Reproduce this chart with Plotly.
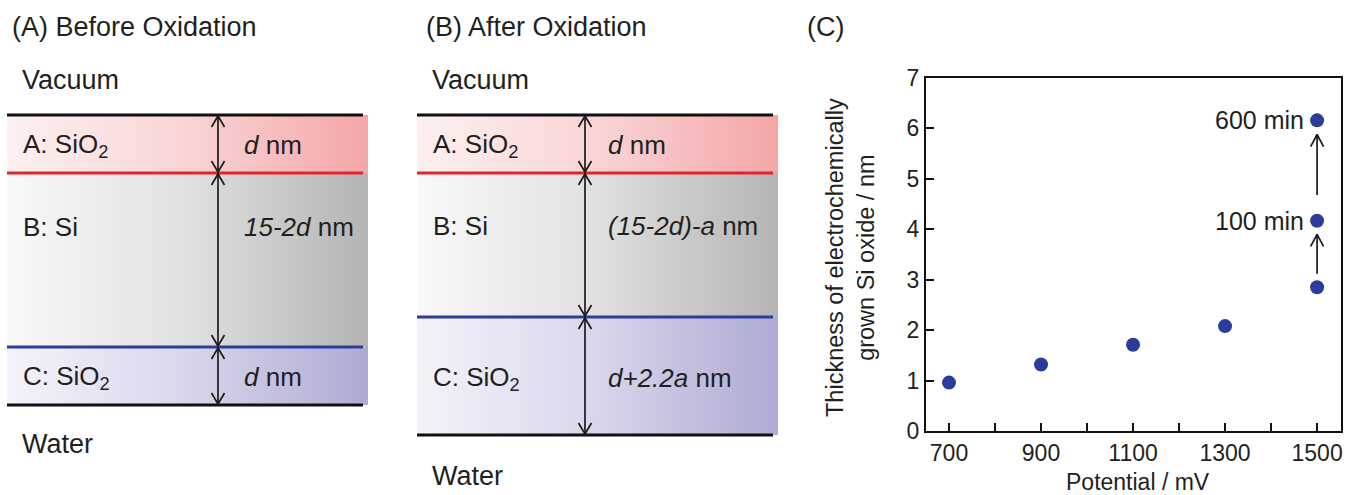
import plotly.graph_objects as go

# ---------------- data (panel C) ----------------
potential_mV = [700, 900, 1100, 1300, 1500, 1500, 1500]
thickness_nm = [0.96, 1.32, 1.71, 2.08, 2.85, 4.17, 6.16]
time_labels = ["600 min", "100 min"]
time_label_y = [6.16, 4.17]
growth_arrows = [(3.12, 3.90), (4.68, 5.88)]
x_tickvals = [700, 900, 1100, 1300, 1500]
y_tickvals = [0, 1, 2, 3, 4, 5, 6, 7]

# ---------------- schematic layout (pixel space) ----------------
W, H = 1354, 495
FONT = "Liberation Sans, Arial, sans-serif"
TXT = "#231f20"
FS = 27
FS_LAYER = 26

panelA = dict(x0=7, x1=363, xf=368, ys=[115, 173, 347, 405], xarrow=218, xlab=21, xval=242,
              ylab=[145, 227, 377])
panelB = dict(x0=417, x1=773, xf=778, ys=[115, 173, 317, 435], xarrow=585, xlab=431, xval=606,
              ylab=[145, 226, 378])

grad_A = [[0, "#fdf0f0"], [0.5, "#f9d4d5"], [1, "#f4a6a8"]]
grad_B = [[0, "#f9f9f9"], [0.5, "#e0e0e0"], [1, "#b4b4b4"]]
grad_C = [[0, "#f4f3fa"], [0.5, "#d8d6eb"], [1, "#aeaad3"]]
line_cols = ["#111111", "#e3242b", "#2b3d99", "#111111"]

fig = go.Figure()


def grad_rect(x0, x1, y0, y1, cs):
    fig.add_trace(go.Scatter(
        x=[x0, x1, x1, x0, x0], y=[y0, y0, y1, y1, y0],
        mode="lines", fill="toself", line=dict(width=0),
        fillgradient=dict(type="horizontal", colorscale=cs),
        xaxis="x2", yaxis="y2", hoverinfo="skip", showlegend=False))


def hline(x0, x1, y, col):
    fig.add_trace(go.Scatter(x=[x0, x1], y=[y, y], mode="lines",
                             line=dict(color=col, width=3.2),
                             xaxis="x2", yaxis="y2", hoverinfo="skip", showlegend=False))


def dbl_arrow(x, ya, yb, w=6.5, h=12):
    xs = [x, x, None, x - w, x, x + w, None, x - w, x, x + w]
    ys = [ya + 1, yb - 1, None, ya + h, ya + 1, ya + h, None, yb - h, yb - 1, yb - h]
    fig.add_trace(go.Scatter(x=xs, y=ys, mode="lines",
                             line=dict(color="#1a1a1a", width=1.7),
                             xaxis="x2", yaxis="y2", hoverinfo="skip", showlegend=False))


def txt(x, y, s, size=FS, xanchor="left"):
    fig.add_annotation(x=x, y=y, xref="x2", yref="y2", text=s, showarrow=False,
                       xanchor=xanchor, yanchor="middle",
                       font=dict(family=FONT, size=size, color=TXT))


def panel(p, val_texts):
    ys = p["ys"]
    grad_rect(p["x0"], p["xf"], ys[0], ys[1], grad_A)
    grad_rect(p["x0"], p["xf"], ys[1], ys[2], grad_B)
    grad_rect(p["x0"], p["xf"], ys[2], ys[3], grad_C)
    for y, c in zip(ys, line_cols):
        hline(p["x0"], p["x1"], y, c)
    for i in range(3):
        dbl_arrow(p["xarrow"], ys[i], ys[i + 1])
    labs = ["A: SiO<sub>2</sub>", "B: Si", "C: SiO<sub>2</sub>"]
    for l, yy, v in zip(labs, p["ylab"], val_texts):
        txt(p["xlab"], yy, l, FS_LAYER)
        txt(p["xval"], yy, v, FS_LAYER)


panel(panelA, ["<i>d</i> nm", "<i>15-2d</i> nm", "<i>d</i> nm"])
panel(panelB, ["<i>d</i> nm", "<i>(15-2d)-a</i> nm", "<i>d+2.2a</i> nm"])

txt(10, 27, "(A) Before Oxidation")
txt(424, 27, "(B) After Oxidation")
txt(805, 27, "(C)")
txt(20, 80, "Vacuum")
txt(20, 444, "Water")
txt(430, 80, "Vacuum")
txt(430, 476, "Water")

# ---------------- panel C scatter ----------------
fig.add_trace(go.Scatter(x=potential_mV, y=thickness_nm, mode="markers",
                         marker=dict(size=14, color="#2b3d9b"),
                         xaxis="x", yaxis="y", showlegend=False))

for (ya, yb) in growth_arrows:
    fig.add_trace(go.Scatter(
        x=[1500, 1500, None, 1486, 1500, 1514],
        y=[ya, yb, None, yb - 0.24, yb, yb - 0.24],
        mode="lines", line=dict(color="#1a1a1a", width=1.7),
        xaxis="x", yaxis="y", hoverinfo="skip", showlegend=False))

for lab, yy in zip(time_labels, time_label_y):
    fig.add_annotation(x=1475, y=yy, xref="x", yref="y", text=lab, showarrow=False,
                       xanchor="right", yanchor="middle",
                       font=dict(family=FONT, size=25, color=TXT))

fig.add_annotation(x=850, y=258, xref="x2", yref="y2", textangle=-90,
                   text="Thickness of electrochemically<br>grown Si oxide / nm",
                   showarrow=False, xanchor="center", yanchor="middle",
                   font=dict(family=FONT, size=23.5, color=TXT))
fig.add_annotation(x=1138, y=482, xref="x2", yref="y2", text="Potential / mV",
                   showarrow=False, xanchor="center", yanchor="middle",
                   font=dict(family=FONT, size=23, color=TXT))

axis_common = dict(showline=True, linewidth=2.2, linecolor="#111111", mirror=True,
                   ticks="inside", ticklen=8, tickwidth=1.6, tickcolor="#111111",
                   showgrid=False, zeroline=False, automargin=False,
                   tickfont=dict(family=FONT, size=23, color=TXT))

fig.update_layout(
    width=W, height=H, margin=dict(l=0, r=0, t=0, b=0, pad=0, autoexpand=False),
    paper_bgcolor="white", plot_bgcolor="rgba(0,0,0,0)",
    xaxis=dict(domain=[926 / W, 1341 / W], range=[650, 1552], anchor="y",
               tickvals=x_tickvals,
               minor=dict(ticks="inside", dtick=100, tick0=700, ticklen=8,
                          tickwidth=1.6, tickcolor="#111111"),
               **axis_common),
    yaxis=dict(domain=[1 - 431 / H, 1 - 78 / H], range=[0, 7], anchor="x",
               tickvals=y_tickvals, **axis_common),
    xaxis2=dict(domain=[0, 1], range=[0, W], visible=False, anchor="y2", automargin=False),
    yaxis2=dict(domain=[0, 1], range=[H, 0], visible=False, anchor="x2", automargin=False),
    showlegend=False,
)

fig.write_html("out.html", config={"displayModeBar": False},
               post_script="document.body.style.margin='0px';document.body.style.overflow='hidden';")
